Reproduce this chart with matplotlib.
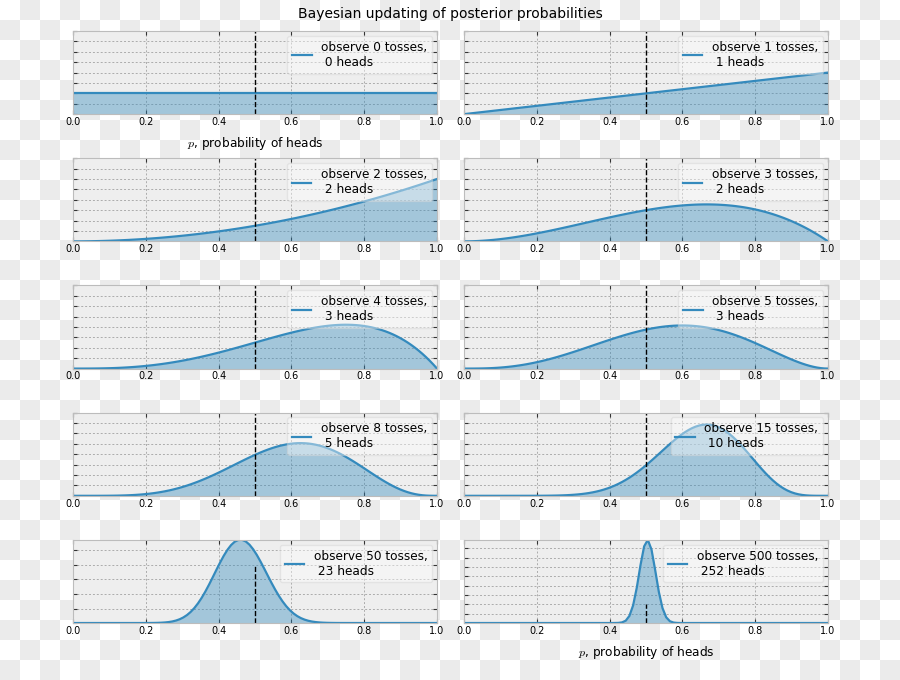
import math

import matplotlib
matplotlib.use("Agg")
import matplotlib.pyplot as plt
import numpy as np
from matplotlib.ticker import MaxNLocator, MultipleLocator

# coin tosses observed so far and how many of them came up heads
n_tosses = [0, 1, 2, 3, 4, 5, 8, 15, 50, 500]
n_heads = [0, 1, 2, 2, 3, 3, 5, 10, 23, 252]

plt.rcParams['mathtext.fontset'] = 'cm'
plt.rcParams['font.family'] = 'DejaVu Sans'


def beta_pdf(x, a, b):
    # posterior of a Beta(1,1) prior after the tosses
    c = math.lgamma(a + b) - math.lgamma(a) - math.lgamma(b)
    return math.exp(c) * x ** (a - 1) * (1 - x) ** (b - 1)


fig, axes = plt.subplots(5, 2, figsize=(9, 6.8), dpi=100,
                         gridspec_kw=dict(left=0.0811, right=0.92, top=0.9544,
                                          bottom=0.0838, hspace=0.53, wspace=0.074))
fig.patch.set_alpha(0)

# transparent background shown as a checkerboard
yy, xx = np.mgrid[0:680, 0:900]
check = ((yy // 20 + xx // 20) % 2).astype(float)
bg = np.ones((680, 900, 3))
bg[check == 1] = 0.925
fig.figimage(bg, xo=0, yo=0, origin='upper', zorder=-10)

x = np.linspace(0, 1, 100)
for k, (N, heads) in enumerate(zip(n_tosses, n_heads)):
    ax = axes.flat[k]
    ax.set_facecolor('#eeeeee')
    for s in ax.spines.values():
        s.set_color('#bcbcbc')
    ax.grid(True, color='#ababab', linestyle=(0, (2, 2)), linewidth=0.7)
    ax.set_axisbelow(True)

    y = beta_pdf(x, 1 + heads, 1 + N - heads)
    ax.plot(x, y, color='#348ABD', lw=1.6,
            label="observe %d tosses,\n %d heads" % (N, heads))
    ax.fill_between(x, 0, y, color="#348ABD", alpha=0.4, lw=0)
    ax.vlines(0.5, 0, 4, color="k", linestyles="--", lw=1)
    ax.autoscale(tight=True)

    ax.xaxis.set_major_locator(MultipleLocator(0.2))
    ax.yaxis.set_major_locator(MaxNLocator(nbins=9, steps=[1, 2, 2.5, 5, 10]))
    ax.tick_params(direction='in', length=3, width=0.8, color='#333333',
                   top=True, right=True, labelsize=7, pad=2)
    ax.tick_params(axis='y', labelleft=False)

    if k in [0, len(n_tosses) - 1]:
        ax.set_xlabel("$p$, probability of heads", fontsize=8.7, labelpad=6)

    leg = ax.legend(loc='upper right', fontsize=8.7, handlelength=1.6,
                    framealpha=0.4, facecolor='white', edgecolor='#d0d0d0',
                    borderaxespad=0.4)

fig.suptitle("Bayesian updating of posterior probabilities", fontsize=10, y=0.99)

plt.savefig("out.png", dpi=100)
plt.close()
